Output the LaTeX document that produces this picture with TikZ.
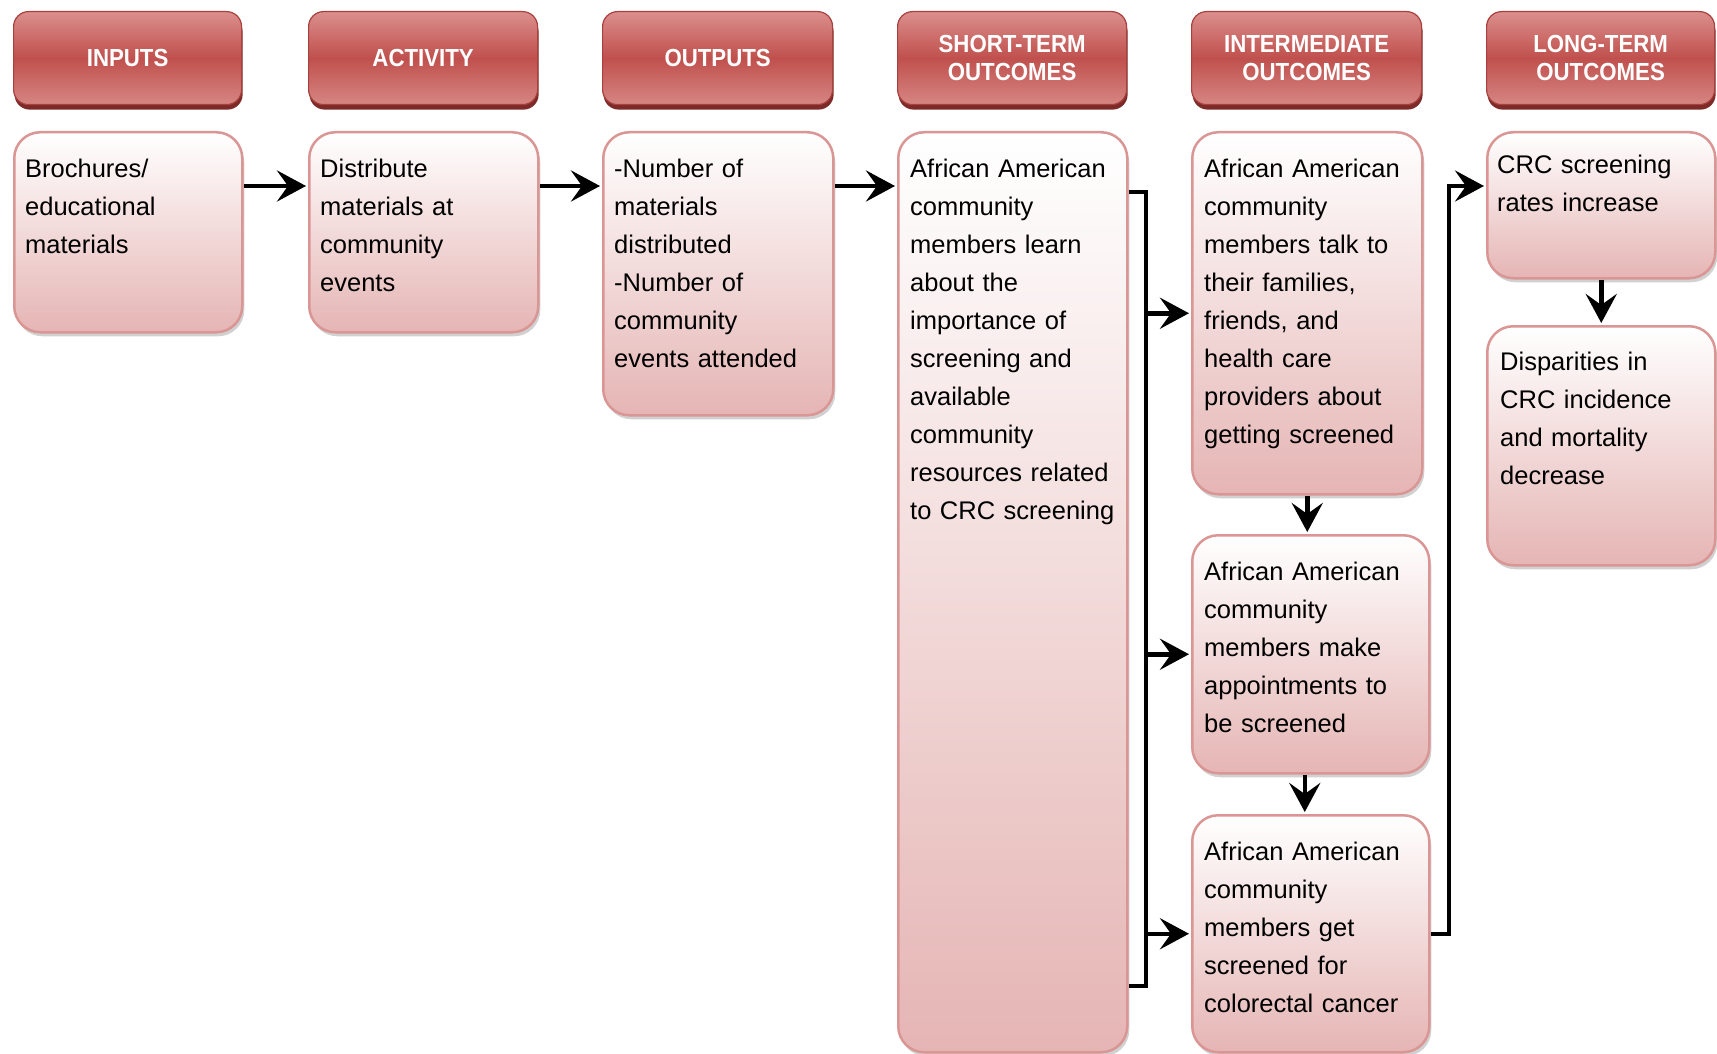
\documentclass[tikz,border=0pt]{standalone}
\usepackage{fontspec}
\setmainfont{Liberation Sans}
\newfontfamily\hfont[FakeStretch=0.9]{Liberation Sans}
\usetikzlibrary{arrows.meta,calc,shadows}
\definecolor{hdrTop}{RGB}{219,143,141}
\definecolor{hdrMid}{RGB}{192,80,77}
\definecolor{hdrBot}{RGB}{214,134,131}
\definecolor{hdrLine}{RGB}{168,64,61}
\definecolor{hdrShadow}{RGB}{125,42,40}
\definecolor{boxBot}{RGB}{229,181,180}
\definecolor{boxLine}{RGB}{217,150,148}
\tikzset{
 hdr/.style={draw=hdrLine, line width=1.2pt, rounded corners=15pt,
   top color=hdrTop, bottom color=hdrBot, middle color=hdrMid,
   anchor=north west, inner sep=0pt, minimum height=93pt,
   text=white, font=\hfont\bfseries\fontsize{24.7}{28}\selectfont, align=center,
   drop shadow={shadow xshift=1pt, shadow yshift=-5pt, fill=hdrShadow, opacity=1}},
 cbox/.style={draw=boxLine, line width=2.5pt, rounded corners=26pt,
   top color=white, bottom color=boxBot, anchor=north west, inner sep=0pt,
   drop shadow={shadow xshift=2pt, shadow yshift=-4pt, fill=black!40, opacity=0.45}},
 txt/.style={anchor=base west, inner sep=0pt, align=left, text width=212pt,
   font=\fontsize{25.5}{38}\selectfont},
 arr/.style={line width=4.5pt, shorten >=2pt, -{Stealth[length=29pt,width=31pt,inset=11pt]}},
 ln/.style={line width=3.5pt}
}
\begin{document}
\begin{tikzpicture}[x=1pt,y=1pt]
\useasboundingbox (0,0) rectangle (1717,-1054);
\fill[white] (0,0) rectangle (1717,-1054);
% headers
\node[hdr, minimum width=228pt] (h1) at (13,-11) {INPUTS};
\node[hdr, minimum width=229pt] (h2) at (308,-11) {ACTIVITY};
\node[hdr, minimum width=230pt] (h3) at (602,-11) {OUTPUTS};
\node[hdr, minimum width=229pt] (h4) at (897,-11) {SHORT-TERM\\OUTCOMES};
\node[hdr, minimum width=230pt] (h5) at (1191,-11) {INTERMEDIATE\\OUTCOMES};
\node[hdr, minimum width=228pt] (h6) at (1486,-11) {LONG-TERM\\OUTCOMES};
% content boxes
\node[cbox, minimum width=228pt, minimum height=200pt] (in) at (13,-131) {};
\node[cbox, minimum width=229pt, minimum height=200pt] (act) at (308,-131) {};
\node[cbox, minimum width=230pt, minimum height=283pt] (out) at (602,-131) {};
\node[cbox, minimum width=229pt, minimum height=920pt] (short) at (897,-131) {};
\node[cbox, minimum width=230pt, minimum height=362pt] (int1) at (1191,-131) {};
\node[cbox, minimum width=237pt, minimum height=238pt] (int2) at (1191,-534) {};
\node[cbox, minimum width=237pt, minimum height=237pt] (int3) at (1191,-814) {};
\node[cbox, minimum width=228pt, minimum height=146pt] (long1) at (1486,-131) {};
\node[cbox, minimum width=228pt, minimum height=239pt] (long2) at (1486,-325) {};
% texts
\node[txt] (tin) at ([shift={(12,-46.5)}]in.north west) {Brochures/\\educational\\materials};
\node[txt] (tact) at ([shift={(12,-46.5)}]act.north west) {Distribute\\materials at\\community\\events};
\node[txt] (tout) at ([shift={(12,-46.5)}]out.north west) {-Number of\\materials\\distributed\\-Number of\\community\\events attended};
\node[txt] (tshort) at ([shift={(13,-46.5)}]short.north west) {African American\\community\\members learn\\about the\\importance of\\screening and\\available\\community\\resources related\\to CRC screening};
\node[txt] (tint1) at ([shift={(13,-46.5)}]int1.north west) {African American\\community\\members talk to\\their families,\\friends, and\\health care\\providers about\\getting screened};
\node[txt] (tint2) at ([shift={(13,-46.5)}]int2.north west) {African American\\community\\members make\\appointments to\\be screened};
\node[txt] (tint3) at ([shift={(13,-46.5)}]int3.north west) {African American\\community\\members get\\screened for\\colorectal cancer};
\node[txt] (tlong1) at ([shift={(11,-43)}]long1.north west) {CRC screening\\rates increase};
\node[txt] (tlong2) at ([shift={(14,-45.5)}]long2.north west) {Disparities in\\CRC incidence\\and mortality\\decrease};
% connectors
\draw[arr] ([yshift=-55pt]in.north east) -- ([yshift=-55pt]act.north west);
\draw[arr] ([yshift=-55pt]act.north east) -- ([yshift=-55pt]out.north west);
\draw[arr] ([yshift=-55pt]out.north east) -- ([yshift=-55pt]short.north west);
\coordinate (brT) at (1146,-192);
\coordinate (brB) at (1146,-986);
\draw[ln] (short.east |- brT) -- (brT) -- (brB) -- (short.east |- brB);
\draw[arr] (brT |- int1.west) -- (int1.west);
\draw[arr] (brT |- int2.west) -- (int2.west);
\draw[arr] (brT |- int3.west) -- (int3.west);
\draw[arr] (int1.south) -- (int1.south |- int2.north);
\draw[arr] ([xshift=-6pt]int2.south) -- ([xshift=-6pt]int3.north);
\draw[arr, line width=4pt] (int3.east) -- ++(18,0) |- ([yshift=-55pt]long1.north west);
\draw[arr] (long1.south) -- (long2.north);
\end{tikzpicture}
\end{document}
